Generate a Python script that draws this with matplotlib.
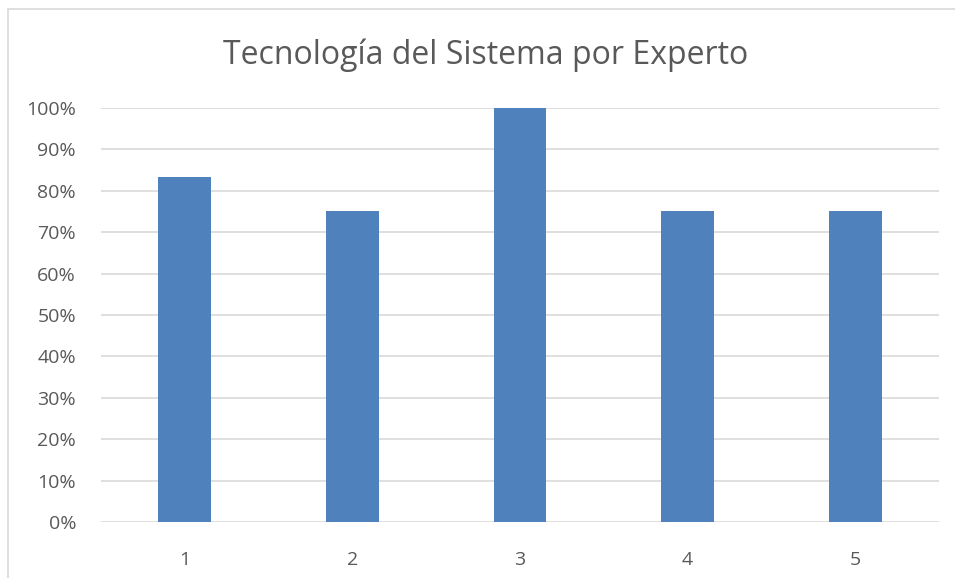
import matplotlib.pyplot as plt
from matplotlib.patches import Rectangle
from matplotlib.ticker import PercentFormatter

categories = ['1', '2', '3', '4', '5']
values = [83.3, 75, 100, 75, 75]
yticks = [0, 10, 20, 30, 40, 50, 60, 70, 80, 90, 100]

plt.rcParams['font.family'] = ['Open Sans', 'DejaVu Sans']

W, H = 955, 578
fig = plt.figure(figsize=(W / 100, H / 100), dpi=100)
ax = fig.add_axes([101 / W, (H - 522.3) / H, 838 / W, 414.6 / H])

# outer chart frame (only top and left visible in the crop)
fig.patches.append(Rectangle((7.5 / W, -0.1), 1.2, (H - 9) / H + 0.1,
                             transform=fig.transFigure, fill=False,
                             edgecolor='#d9d9d9', linewidth=1.2))

x = range(len(categories))
ax.bar(x, values, width=0.315, color='#4f81bd', zorder=3)

ax.set_xlim(-0.5, len(categories) - 0.5)
ax.set_ylim(0, 100)
ax.set_yticks(yticks)
ax.yaxis.set_major_formatter(PercentFormatter(decimals=0))
ax.set_xticks(list(x))
ax.set_xticklabels(categories)
ax.grid(axis='y', color='#d9d9d9', linewidth=1.2, zorder=0)
for sp in ax.spines.values():
    sp.set_visible(False)
ax.tick_params(axis='both', length=0, labelsize=14, labelcolor='#595959')
ax.tick_params(axis='y', pad=18)
ax.tick_params(axis='x', pad=21)

fig.text(486 / W, 1 - 55 / H, 'Tecnología del Sistema por Experto',
         ha='center', va='center', fontsize=23, color='#595959')

fig.savefig('out.png', dpi=100)
